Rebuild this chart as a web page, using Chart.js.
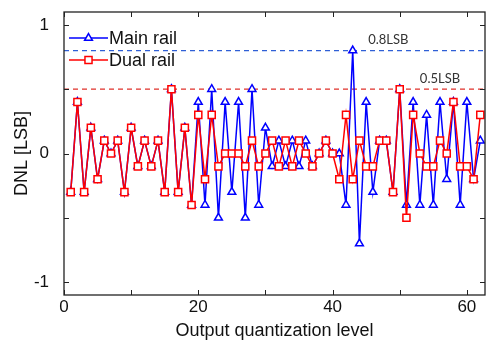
<!DOCTYPE html>
<html>
<head>
<meta charset="utf-8">
<script src="https://cdn.jsdelivr.net/npm/chart.js@4.4.1/dist/chart.umd.min.js"></script>
<style>
  html, body { margin: 0; padding: 0; background: #fff; }
  #wrap { width: 487px; height: 342px; }
</style>
</head>
<body>
<div id="wrap"><canvas id="dnl"></canvas></div>
<script>
// output quantization levels 1..62
const levels = [];
for (let i = 1; i <= 62; i++) levels.push(i);

// DNL values
const mainRail = [
  -0.3, 0.4, -0.3, 0.2, -0.2, 0.1, 0.0, 0.1, -0.3, 0.2,
  -0.1, 0.1, -0.1, 0.1, -0.3, 0.5, -0.3, 0.2, -0.4, 0.4,
  -0.4, 0.5, -0.5, 0.4, -0.3, 0.4, -0.5, 0.5, -0.4, 0.2,
  -0.1, 0.1, -0.1, 0.1, -0.1, 0.1, -0.1, 0.0, 0.1, 0.0,
  0.0, -0.4, 0.8, -0.7, 0.4, -0.3, 0.1, 0.1, -0.3, 0.5,
  -0.4, 0.4, -0.4, 0.3, -0.4, 0.4, -0.2, 0.4, -0.4, 0.4,
  -0.2, 0.1
];
const dualRail = [
  -0.3, 0.4, -0.3, 0.2, -0.2, 0.1, 0.0, 0.1, -0.3, 0.2,
  -0.1, 0.1, -0.1, 0.1, -0.3, 0.5, -0.3, 0.2, -0.4, 0.3,
  -0.2, 0.3, -0.1, 0.0, 0.0, 0.0, -0.1, 0.1, -0.1, 0.0,
  0.1, -0.1, 0.1, -0.1, 0.1, 0.0, -0.1, 0.0, 0.1, 0.0,
  -0.2, 0.3, -0.2, 0.1, -0.1, -0.1, 0.1, 0.1, -0.3, 0.5,
  -0.5, 0.3, 0.0, -0.1, -0.1, 0.1, 0.0, 0.4, -0.1, -0.1,
  -0.2, 0.3
];

// max DNL marker lines
const refLevels = [0.8, 0.5];
const refLabels = ['0.8LSB', '0.5LSB'];
const refLabelAt = [45.3, 53.0];

const xTickLabels = [0, 20, 40, 60];
const yTickLabels = [-1, 0, 1];
const X_MAX = 62.7;

const BLUE = '#0000ff';
const RED = '#ff0000';
const REF_COLORS = ['#2f5fd6', '#e0302a'];

const toPoints = (vals) => vals.map((v, i) => ({ x: levels[i], y: v }));
const refLine = (v) => [{ x: 0, y: v }, { x: X_MAX, y: v }];

// frame + inward ticks like the original figure
const framePlugin = {
  id: 'frame',
  afterDraw(chart) {
    const { ctx, chartArea: a, scales } = chart;
    ctx.save();
    ctx.strokeStyle = '#222';
    ctx.lineWidth = 1.3;
    ctx.strokeRect(a.left, a.top, a.right - a.left, a.bottom - a.top);
    ctx.lineWidth = 1;
    ctx.beginPath();
    scales.x.ticks.forEach(t => {
      const px = Math.round(scales.x.getPixelForValue(t.value)) + 0.5;
      ctx.moveTo(px, a.bottom); ctx.lineTo(px, a.bottom - 5);
      ctx.moveTo(px, a.top); ctx.lineTo(px, a.top + 5);
    });
    scales.y.ticks.forEach(t => {
      const py = Math.round(scales.y.getPixelForValue(t.value)) + 0.5;
      ctx.moveTo(a.left, py); ctx.lineTo(a.left + 5, py);
      ctx.moveTo(a.right, py); ctx.lineTo(a.right - 5, py);
    });
    ctx.stroke();
    ctx.restore();
  }
};

// LSB labels and legend drawn inside the plot area
const notesPlugin = {
  id: 'notes',
  afterDatasetsDraw(chart) {
    const { ctx, chartArea: a, scales } = chart;
    ctx.save();
    ctx.font = '13px Lato, "Open Sans", sans-serif';
    ctx.fillStyle = '#333';
    ctx.textBaseline = 'bottom';
    refLevels.forEach((lv, i) => {
      ctx.fillText(refLabels[i], scales.x.getPixelForValue(refLabelAt[i]), scales.y.getPixelForValue(lv) - 4);
    });

    const items = [chart.data.datasets[0], chart.data.datasets[1]];
    items.forEach((ds, i) => {
      const y = a.top + 26 + i * 22;
      const x0 = a.left + 5, x1 = a.left + 44;
      ctx.strokeStyle = ds.borderColor;
      ctx.lineWidth = 1.5;
      ctx.setLineDash([]);
      ctx.beginPath(); ctx.moveTo(x0, y); ctx.lineTo(x1, y); ctx.stroke();
      ctx.fillStyle = '#fff';
      Chart.helpers.drawPoint(ctx, {
        pointStyle: ds.pointStyle, radius: ds.pointRadius, rotation: 0, borderWidth: 1.5
      }, (x0 + x1) / 2, y);
      ctx.fillStyle = '#111';
      ctx.font = '18px "Liberation Sans", Arial, sans-serif';
      ctx.textBaseline = 'middle';
      ctx.fillText(ds.label, x1 + 1, y + 1);
    });
    ctx.restore();
  }
};

new Chart(document.getElementById('dnl'), {
  type: 'line',
  data: {
    datasets: [
      {
        label: 'Main rail',
        data: toPoints(mainRail),
        borderColor: BLUE,
        backgroundColor: '#fff',
        borderWidth: 1.5,
        pointStyle: 'triangle',
        pointRadius: 4.5,
        pointBorderWidth: 1.5,
        order: 2
      },
      {
        label: 'Dual rail',
        data: toPoints(dualRail),
        borderColor: RED,
        backgroundColor: '#fff',
        borderWidth: 1.5,
        pointStyle: 'rect',
        pointRadius: 5,
        pointBorderWidth: 1.5,
        order: 1
      },
      ...refLevels.map((lv, i) => ({
        label: refLabels[i],
        data: refLine(lv),
        borderColor: REF_COLORS[i],
        borderWidth: 1.2,
        borderDash: [5, 4],
        pointRadius: 0,
        order: 3
      }))
    ]
  },
  options: {
    responsive: true,
    maintainAspectRatio: false,
    animation: false,
    layout: { autoPadding: false, padding: { top: 12, right: 2, left: 0, bottom: 0 } },
    plugins: {
      legend: { display: false },
      tooltip: { enabled: false }
    },
    scales: {
      x: {
        type: 'linear',
        min: 0,
        max: X_MAX,
        afterFit: s => { s.height = 47; s.paddingLeft = 0; s.paddingRight = 0; },
        afterBuildTicks: s => { s.ticks = [0, 10, 20, 30, 40, 50, 60].map(v => ({ value: v })); },
        grid: { display: false, drawTicks: false },
        border: { display: false },
        ticks: {
          autoSkip: false,
          maxRotation: 0,
          padding: 2,
          color: '#111',
          font: { family: '"Liberation Sans", Arial, sans-serif', size: 17 },
          callback: v => xTickLabels.includes(v) ? String(v) : ''
        },
        title: {
          display: true,
          text: 'Output quantization level',
          color: '#111',
          padding: 0,
          font: { family: '"Liberation Sans", Arial, sans-serif', size: 18 }
        }
      },
      y: {
        min: -1.1,
        max: 1.1,
        afterFit: s => { s.width = 64; s.paddingTop = 0; s.paddingBottom = 0; },
        afterBuildTicks: s => { s.ticks = [-1, -0.5, 0, 0.5, 1].map(v => ({ value: v })); },
        grid: { display: false, drawTicks: false },
        border: { display: false },
        ticks: {
          autoSkip: false,
          padding: 15,
          color: '#111',
          font: { family: '"Liberation Sans", Arial, sans-serif', size: 17 },
          callback: v => yTickLabels.includes(v) ? String(v) : ''
        },
        title: {
          display: true,
          text: 'DNL [LSB]',
          color: '#111',
          padding: { top: 11, bottom: 0 },
          font: { family: '"Liberation Sans", Arial, sans-serif', size: 18 }
        }
      }
    }
  },
  plugins: [framePlugin, notesPlugin]
});
</script>
</body>
</html>
